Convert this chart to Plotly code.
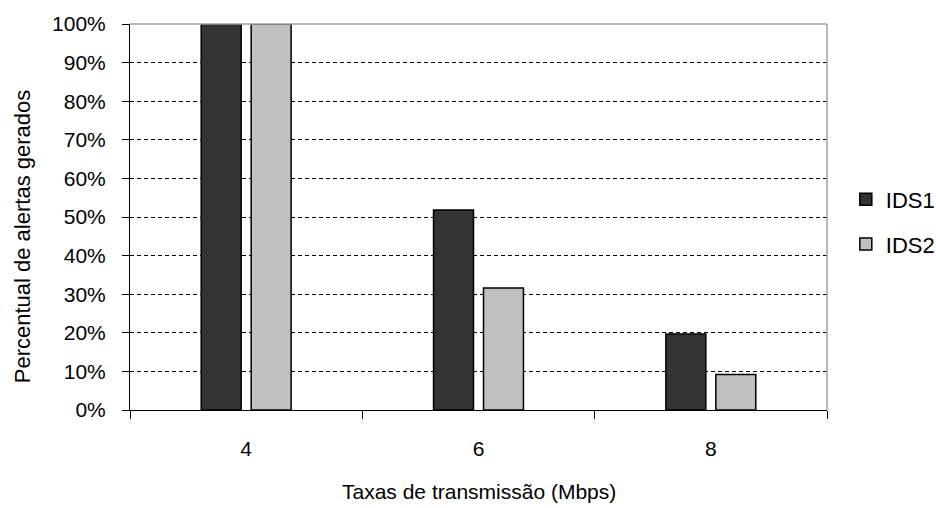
import plotly.graph_objects as go

# Taxas de transmissão e percentual de alertas por IDS
taxas = ["4", "6", "8"]
ids1 = [100, 51.8, 19.7]
ids2 = [100, 31.6, 9.2]
y_ticks = list(range(0, 101, 10))
y_tick_labels = [f"{v}%" for v in y_ticks]
x_title = "Taxas de transmissão (Mbps)"
y_title = "Percentual de alertas gerados"

FONT = "Liberation Sans, Arial, sans-serif"

fig = go.Figure()
fig.add_trace(go.Bar(
    x=taxas, y=ids1, name="IDS1", legendgroup="a",
    marker=dict(color="#333333", line=dict(color="#000000", width=1.5)),
))
fig.add_trace(go.Bar(
    x=taxas, y=ids2, name="IDS2", legendgroup="b",
    marker=dict(color="#c0c0c0", line=dict(color="#000000", width=1.5)),
))

fig.update_layout(
    width=936, height=508,
    margin=dict(l=130, r=109, t=24, b=98, autoexpand=False),
    paper_bgcolor="white", plot_bgcolor="white",
    font=dict(family=FONT, size=21, color="#000000"),
    barmode="group", bargap=0.57, bargroupgap=0.2,
    showlegend=True,
    legend=dict(
        x=1.027, y=0.487, xanchor="left", yanchor="middle",
        font=dict(size=22), traceorder="grouped", tracegroupgap=13,
        bgcolor="rgba(0,0,0,0)",
    ),
    xaxis=dict(
        type="category", showgrid=False,
        showline=True, linecolor="#000000", linewidth=1,
        ticks="outside", tickson="boundaries", ticklen=8, tickcolor="#000000",
        tickfont=dict(size=21), ticklabelstandoff=20,
    ),
    yaxis=dict(
        range=[0, 100], tickvals=y_ticks, ticktext=y_tick_labels,
        showline=True, linecolor="#000000", linewidth=1,
        ticks="outside", ticklen=7, tickcolor="#000000",
        showgrid=True, gridcolor="#000000", gridwidth=1, griddash="4px,3px",
        zeroline=False,
        tickfont=dict(size=21), ticklabelstandoff=12,
    ),
    shapes=[
        dict(type="line", xref="paper", yref="paper", x0=0, x1=1, y0=1, y1=1,
             line=dict(color="#a0a0a0", width=1.5), layer="above"),
        dict(type="line", xref="paper", yref="paper", x0=1, x1=1, y0=0, y1=1,
             line=dict(color="#a0a0a0", width=1.5), layer="above"),
    ],
    annotations=[
        dict(text=x_title, xref="paper", yref="paper", x=0.5, y=-0.21,
             xanchor="center", yanchor="middle", showarrow=False,
             font=dict(size=21)),
        dict(text=y_title, xref="paper", yref="paper", x=-0.155, y=0.45,
             xanchor="center", yanchor="middle", showarrow=False,
             textangle=-90, font=dict(size=22)),
    ],
)

fig.write_html("out.html")
